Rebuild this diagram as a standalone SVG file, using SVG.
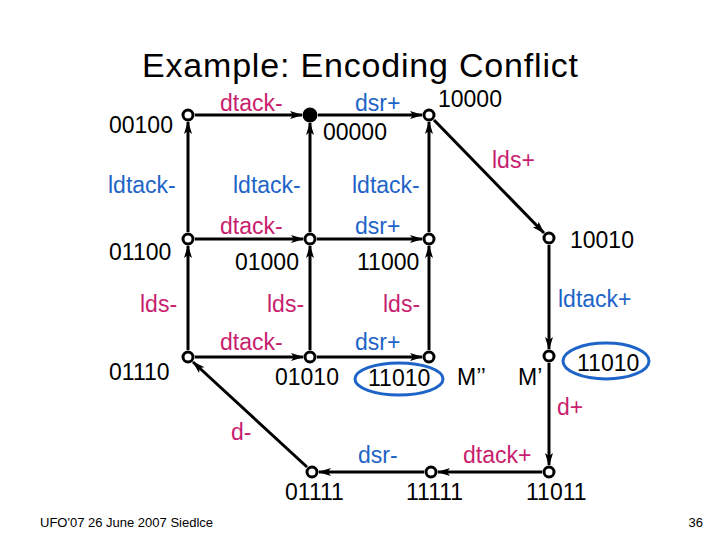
<svg xmlns="http://www.w3.org/2000/svg" width="720" height="540" viewBox="0 0 720 540">
<style>
text{font-family:"Liberation Sans",Arial,sans-serif;font-size:23px}
.st{fill:#000}
.m{fill:#C81E6E}
.b{fill:#1E64C8}
.e{stroke:#000;stroke-width:3;fill:none;marker-end:url(#ah)}
.n{fill:#fff;stroke:#000;stroke-width:3}
.hl{fill:none;stroke:#1E64C8;stroke-width:3}
</style>
<defs>
<marker id="ah" markerUnits="userSpaceOnUse" markerWidth="14" markerHeight="10" refX="12" refY="4" orient="auto">
<path d="M0,0 L13,4 L0,8 L3,4 z" fill="#000"/>
</marker>
</defs>
<rect width="720" height="540" fill="#fff"/>
<text x="360" y="77" text-anchor="middle" style="font-size:34px" textLength="436" lengthAdjust="spacing">Example: Encoding Conflict</text>

<g id="connectors">
<line class="e" x1="195" y1="115" x2="302" y2="115"/>
<line class="e" x1="318" y1="115" x2="422" y2="115"/>
<line class="e" x1="188" y1="232" x2="188" y2="122"/>
<line class="e" x1="310" y1="232" x2="310" y2="123"/>
<line class="e" x1="429" y1="232" x2="429" y2="122"/>
<line class="e" x1="434" y1="120" x2="544" y2="233"/>
<line class="e" x1="195" y1="239" x2="303" y2="239"/>
<line class="e" x1="317" y1="239" x2="422" y2="239"/>
<line class="e" x1="188" y1="350" x2="188" y2="246"/>
<line class="e" x1="310" y1="350" x2="310" y2="246"/>
<line class="e" x1="429" y1="350" x2="429" y2="246"/>
<line class="e" x1="549" y1="245" x2="549" y2="349"/>
<line class="e" x1="195" y1="357" x2="303" y2="357"/>
<line class="e" x1="317" y1="357" x2="422" y2="357"/>
<line class="e" x1="549" y1="363" x2="549" y2="465"/>
<line class="e" x1="542" y1="472" x2="438" y2="472"/>
<line class="e" x1="424" y1="472" x2="319" y2="472"/>
<line class="e" x1="307" y1="467" x2="193" y2="362"/>
</g>

<g id="edge-labels">
<text class="m" x="220" y="111">dtack-</text>
<text class="b" x="355" y="111">dsr+</text>
<text class="m" x="492" y="168">lds+</text>
<text class="b" x="108" y="193">ldtack-</text>
<text class="b" x="233" y="193">ldtack-</text>
<text class="b" x="352" y="193">ldtack-</text>
<text class="m" x="220" y="234">dtack-</text>
<text class="b" x="355" y="234">dsr+</text>
<text class="m" x="140" y="312">lds-</text>
<text class="m" x="267" y="312">lds-</text>
<text class="m" x="383" y="312">lds-</text>
<text class="b" x="558" y="307">ldtack+</text>
<text class="m" x="220" y="350">dtack-</text>
<text class="b" x="355" y="350">dsr+</text>
<text class="m" x="557" y="415">d+</text>
<text class="m" x="231" y="440">d-</text>
<text class="b" x="358" y="463">dsr-</text>
<text class="m" x="463" y="463">dtack+</text>
</g>

<g id="n00100"><circle class="n" cx="188" cy="115" r="5"/><text x="109" y="133">00100</text></g>
<g id="n00000"><circle cx="310" cy="115" r="7.5" fill="#000"/><text x="323" y="140">00000</text></g>
<g id="n10000"><circle class="n" cx="429" cy="115" r="5"/><text x="438" y="107">10000</text></g>
<g id="n01100"><circle class="n" cx="188" cy="239" r="5"/><text x="109" y="260">01100</text></g>
<g id="n01000"><circle class="n" cx="310" cy="239" r="5"/><text x="235" y="270">01000</text></g>
<g id="n11000"><circle class="n" cx="429" cy="239" r="5"/><text x="357" y="270">11000</text></g>
<g id="n10010"><circle class="n" cx="549" cy="238" r="5"/><text x="570" y="248">10010</text></g>
<g id="n01110"><circle class="n" cx="188" cy="357" r="5"/><text x="109" y="380">01110</text></g>
<g id="n01010"><circle class="n" cx="310" cy="357" r="5"/><text x="275" y="385">01010</text></g>
<g id="n11010a"><circle class="n" cx="429" cy="357" r="5"/><ellipse class="hl" cx="399" cy="379" rx="44" ry="16"/><text x="368" y="386">11010</text><text x="457" y="385">M’’</text></g>
<g id="n11010b"><circle class="n" cx="549" cy="356" r="5"/><ellipse class="hl" cx="606" cy="361" rx="43" ry="18"/><text x="577" y="371">11010</text><text x="518" y="385">M’</text></g>
<g id="n01111"><circle class="n" cx="312" cy="472" r="5"/><text x="285" y="500">01111</text></g>
<g id="n11111"><circle class="n" cx="431" cy="472" r="5"/><text x="406" y="500">11111</text></g>
<g id="n11011"><circle class="n" cx="549" cy="472" r="5"/><text x="526" y="500">11011</text></g>

<text x="40" y="527" style="font-size:13px">UFO'07 26 June 2007 Siedlce</text>
<text x="703" y="527" text-anchor="end" style="font-size:13px">36</text>
</svg>
